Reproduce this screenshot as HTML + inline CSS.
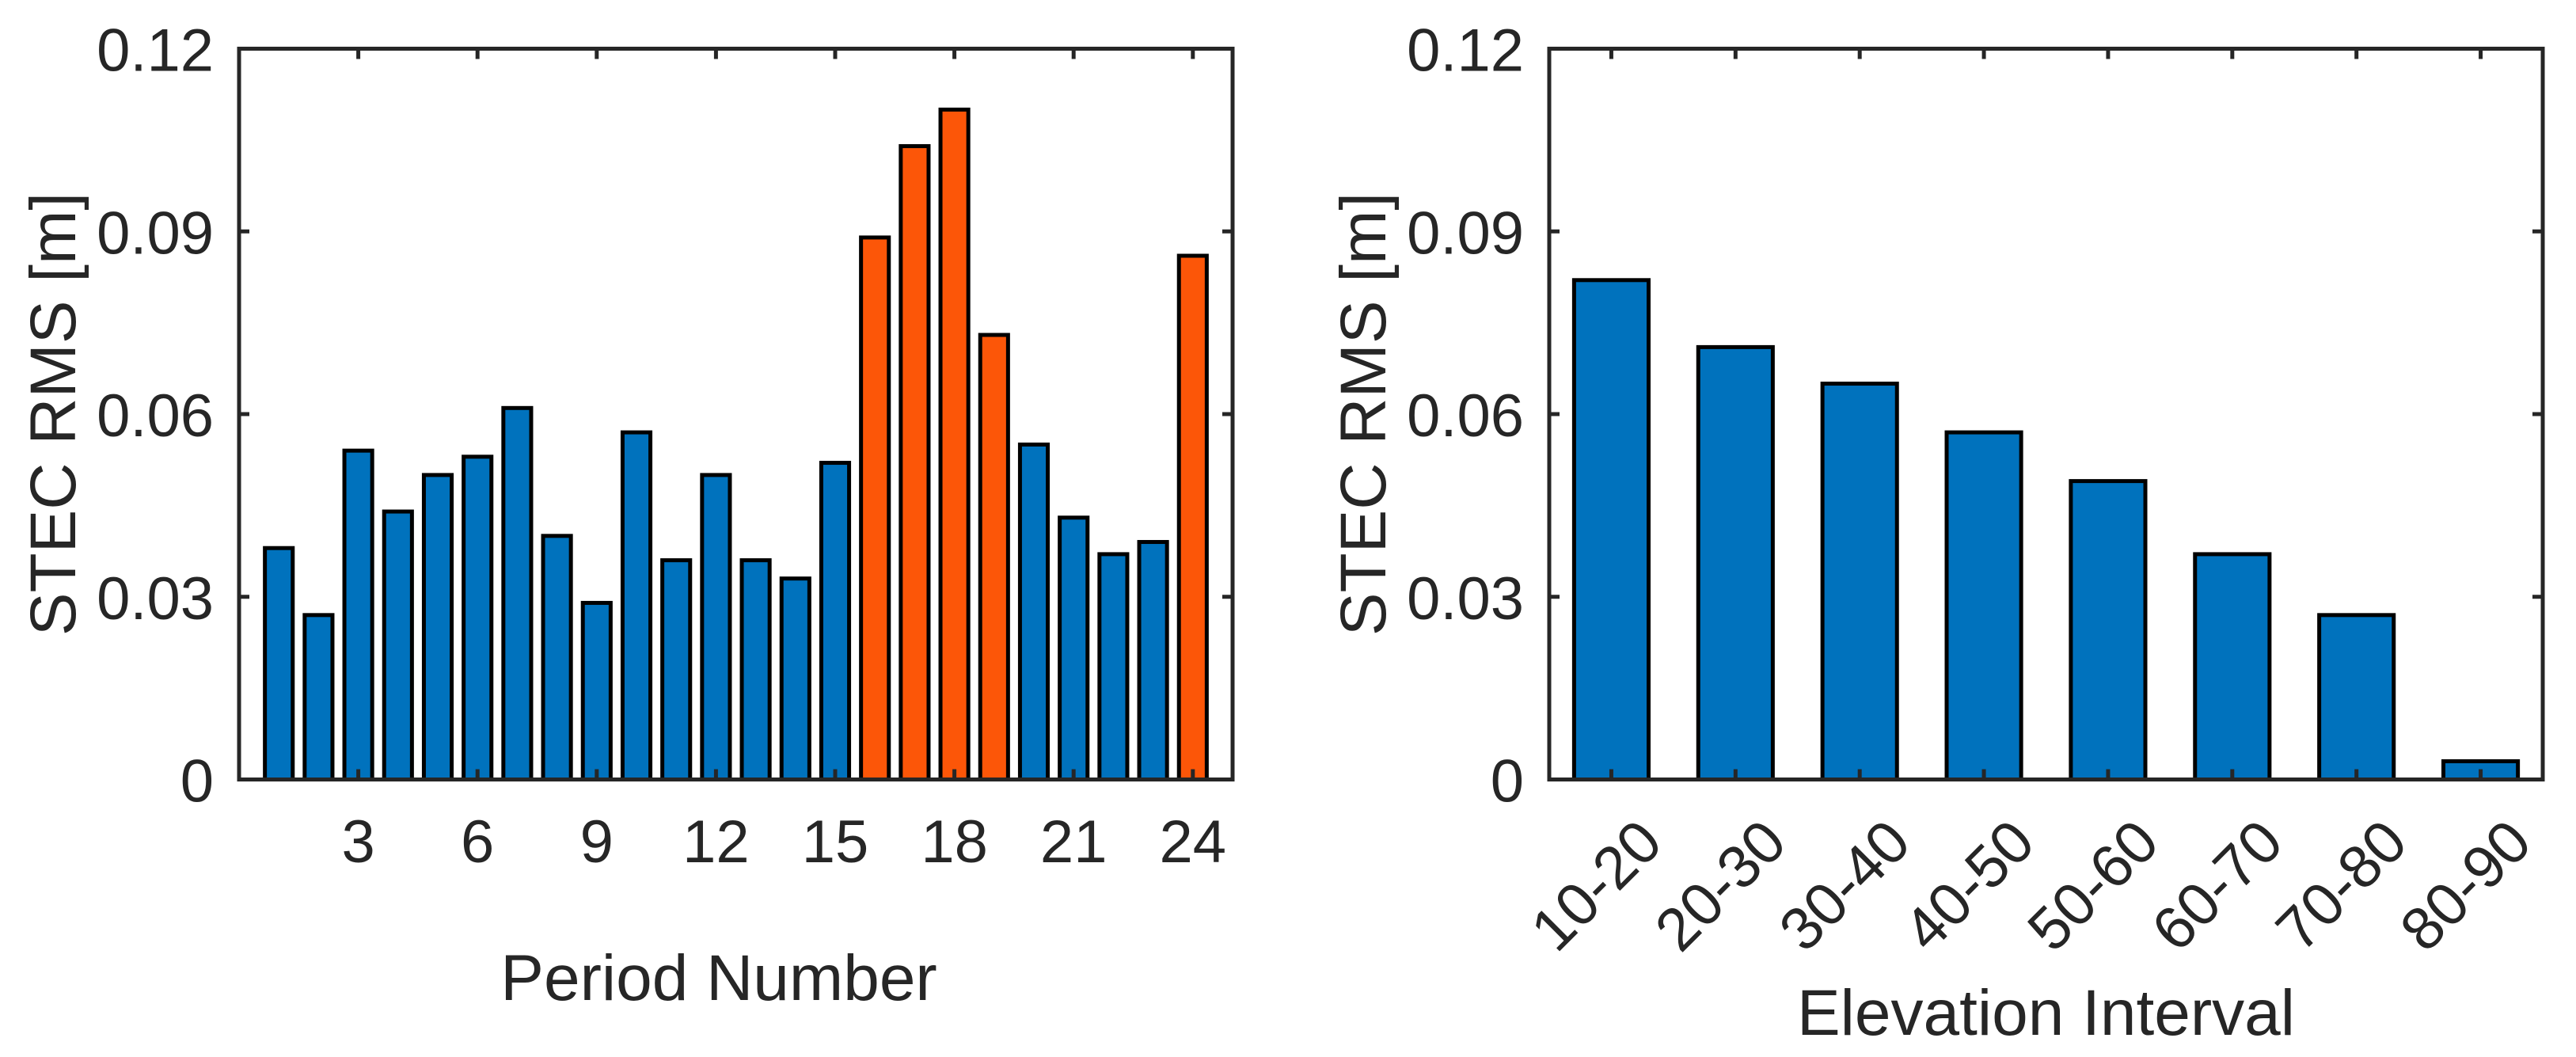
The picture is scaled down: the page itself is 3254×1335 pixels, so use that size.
<!DOCTYPE html>
<html><head><meta charset="utf-8"><style>
html,body{margin:0;padding:0;background:#fff;}
svg{display:block;font-family:"Liberation Sans",Arial,sans-serif;}
</style></head><body>
<svg id="fig" width="3254" height="1335" viewBox="0 0 3254 1335" xmlns="http://www.w3.org/2000/svg"></svg>
<script>
const periodCategories = [1,2,3,4,5,6,7,8,9,10,11,12,13,14,15,16,17,18,19,20,21,22,23,24];
const periodValues = [0.038,0.027,0.054,0.044,0.050,0.053,0.061,0.040,0.029,0.057,0.036,0.050,0.036,0.033,0.052,0.089,0.104,0.110,0.073,0.055,0.043,0.037,0.039,0.086];
const periodHighlighted = [16,17,18,19,24];
const periodTicks = [3,6,9,12,15,18,21,24];
const elevCategories = ["10-20","20-30","30-40","40-50","50-60","60-70","70-80","80-90"];
const elevValues = [0.082,0.071,0.065,0.057,0.049,0.037,0.027,0.003];
const yTicks = [0,0.03,0.06,0.09,0.12];
const yTickLabels = ["0","0.03","0.06","0.09","0.12"];

const NS = "http://www.w3.org/2000/svg";
const svgRoot = document.getElementById('fig');
function mk(tag, attrs, parent){const e=document.createElementNS(NS,tag);for(const k in attrs)e.setAttribute(k,attrs[k]);(parent||svgRoot).appendChild(e);return e;}
const AX = "#262626", BLUE="#0072BD", ORANGE="#FC5608";
const plotTop=61.5, plotBot=984.5;
function yScale(v){return plotBot-(v/0.12)*(plotBot-plotTop);}

function drawAxes(g, L, R, xScale, xTickVals, yLabelX){
  yTicks.forEach((t,i)=>{
    const y=yScale(t);
    const tl=mk('line',{x1:L,x2:L+13,y1:y,y2:y,stroke:AX,'stroke-width':5},g);
    
    
    const tr=mk('line',{x1:R-13,x2:R,y1:y,y2:y,stroke:AX,'stroke-width':5},g);
    
    
    const tx=mk('text',{x:L-32,y:y+28,'text-anchor':'end','font-size':76,fill:AX},g);
    tx.textContent=yTickLabels[i];
    
    
  });
  xTickVals.forEach(v=>{
    const x=xScale(v);
    const tb=mk('line',{x1:x,x2:x,y1:plotBot-13,y2:plotBot,stroke:AX,'stroke-width':5},g);
    
    
    const tt=mk('line',{x1:x,x2:x,y1:plotTop,y2:plotTop+13,stroke:AX,'stroke-width':5},g);
    
    
  });
  const box=mk('rect',{x:L,y:plotTop,width:R-L,height:plotBot-plotTop,fill:'none',stroke:AX,'stroke-width':5},g);
  
  
  const yl=mk('text',{x:0,y:0,transform:`translate(${yLabelX},${(plotTop+plotBot)/2}) rotate(-90)`,'text-anchor':'middle','font-size':82,fill:AX},g);
  yl.textContent='STEC RMS [m]';
  
  
}

// Left chart
const g1=mk('g',{});


const L1=302,R1=1557;
const x1=v=>L1+(v-0)/(25-0)*(R1-L1);
const bw1=0.7*(R1-L1)/25;
periodCategories.forEach((c,i)=>{
  const v=periodValues[i];
  const r=mk('rect',{x:x1(c)-bw1/2,y:yScale(v),width:bw1,height:plotBot-yScale(v),fill:periodHighlighted.includes(c)?ORANGE:BLUE,stroke:'#000','stroke-width':5},g1);
  
  
});
drawAxes(g1,L1,R1,x1,periodTicks,95);
periodTicks.forEach(t=>{
  const tx=mk('text',{x:x1(t),y:1089,'text-anchor':'middle','font-size':76,fill:AX},g1);
  tx.textContent=String(t);
  
  
});
const xl1=mk('text',{x:908,y:1263,'text-anchor':'middle','font-size':82,fill:AX},g1);
xl1.textContent='Period Number';



// Right chart
const g2=mk('g',{});


const L2=1957,R2=3212;
const x2=i=>L2+(i-0.5)/8*(R2-L2);
const bw2=0.6*(R2-L2)/8;
elevCategories.forEach((c,i)=>{
  const v=elevValues[i];
  const r=mk('rect',{x:x2(i+1)-bw2/2,y:yScale(v),width:bw2,height:plotBot-yScale(v),fill:BLUE,stroke:'#000','stroke-width':5},g2);
  
  
});
drawAxes(g2,L2,R2,x2,elevCategories.map((c,i)=>i+1),1750);
elevCategories.forEach((c,i)=>{
  const x=x2(i+1)+68, y=1068;
  const tx=mk('text',{x:0,y:0,transform:`translate(${x},${y}) rotate(-45)`,'text-anchor':'end','font-size':76,fill:AX},g2);
  tx.textContent=c;
  
  
});
const xl2=mk('text',{x:(L2+R2)/2,y:1307,'text-anchor':'middle','font-size':82,fill:AX},g2);
xl2.textContent='Elevation Interval';


</script>
</body></html>
